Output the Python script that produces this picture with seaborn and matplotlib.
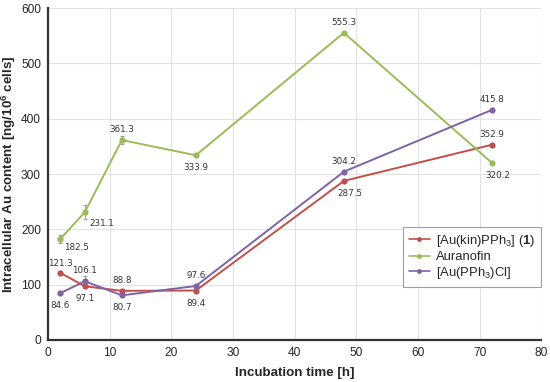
import numpy as np
import pandas as pd
import seaborn as sns
import matplotlib.pyplot as plt

# incubation times [h]
times = [2, 6, 12, 24, 48, 72]

series_names = ["[Au(kin)PPh$_3$] ($\\mathbf{1}$)", "Auranofin", "[Au(PPh$_3$)Cl]"]
kin_vals = [121.3, 97.1, 88.8, 89.4, 287.5, 352.9]
aur_vals = [182.5, 231.1, 361.3, 333.9, 555.3, 320.2]
cl_vals = [84.6, 106.1, 80.7, 97.6, 304.2, 415.8]

# error bars
kin_err = [2, 3, 3, 3, 0, 0]
aur_err = [7, 12, 7, 0, 0, 0]
cl_err = [2, 9, 3, 0, 0, 0]

colors = ["#C0504D", "#9BBB59", "#8064A2"]

# label offsets in points (dx, dy) for each point
kin_off = [(0, 7), (0, -9), (0, 7.5), (0, -9), (4, -9), (0, 7.5)]
aur_off = [(12, -6), (12, -8), (0, 7.5), (0, -9), (0, 7.5), (4, -9)]
cl_off = [(0, -9), (0, 7.5), (0, -9), (0, 7.5), (0, 7.5), (0, 7.5)]

sns.set_style("whitegrid", {"grid.color": "#e2e2e2", "axes.edgecolor": "#333333"})
plt.rcParams["font.family"] = ["Liberation Sans", "DejaVu Sans"]
plt.rcParams["mathtext.fontset"] = "custom"
plt.rcParams["mathtext.rm"] = "Liberation Sans"
plt.rcParams["mathtext.bf"] = "Liberation Sans:bold"

df = pd.concat([
    pd.DataFrame({"time": times, "val": v, "compound": n})
    for v, n in zip([kin_vals, aur_vals, cl_vals], series_names)
])

fig, ax = plt.subplots(figsize=(5.5, 3.82), dpi=100)
fig.subplots_adjust(left=0.087, right=0.984, top=0.979, bottom=0.11)

sns.lineplot(data=df, x="time", y="val", hue="compound", palette=colors,
             marker="o", markersize=4.5, markeredgewidth=0, linewidth=1.4,
             ax=ax, legend=True)

for vals, errs, col in zip([kin_vals, aur_vals, cl_vals], [kin_err, aur_err, cl_err], colors):
    ax.errorbar(times, vals, yerr=errs, fmt="none", ecolor="#a0a0a0",
                elinewidth=0.8, capsize=1.5, capthick=0.8, zorder=1)

for vals, offs in zip([kin_vals, aur_vals, cl_vals], [kin_off, aur_off, cl_off]):
    for t, v, o in zip(times, vals, offs):
        ax.annotate(f"{v:.1f}", (t, v), xytext=o, textcoords="offset points",
                    ha="center", va="center", fontsize=6.3, color="#333333",
                    family="DejaVu Sans")

ax.set_xlim(0, 80)
ax.set_ylim(0, 600)
ax.set_xticks(range(0, 81, 10))
ax.set_yticks(range(0, 601, 100))
ax.tick_params(labelsize=8.6, length=3, width=1, color="#333333", pad=2)
for s in ["top", "right"]:
    ax.spines[s].set_visible(False)
for s in ["left", "bottom"]:
    ax.spines[s].set_linewidth(1.6)
    ax.spines[s].set_color("#333333")

ax.set_xlabel("Incubation time [h]", fontsize=9.6, fontweight="bold")
ax.set_ylabel("Intracellular Au content [ng/10$^{\\mathbf{6}}$ cells]",
              fontsize=9.6, fontweight="bold")
ax.yaxis.set_label_coords(-0.06, 0.5)
ax.xaxis.set_label_coords(0.5, -0.082)

leg = ax.legend(loc="upper right", bbox_to_anchor=(1.0, 0.34), fontsize=9.4,
                frameon=True, fancybox=False, edgecolor="#888888",
                handlelength=1.6, borderpad=0.45, labelspacing=0.15,
                handletextpad=0.5, borderaxespad=0)
leg.get_frame().set_linewidth(0.8)
for h in leg.get_lines():
    h.set_markersize(3.5)
    h.set_linewidth(1.2)

plt.savefig("out.png", dpi=100)
